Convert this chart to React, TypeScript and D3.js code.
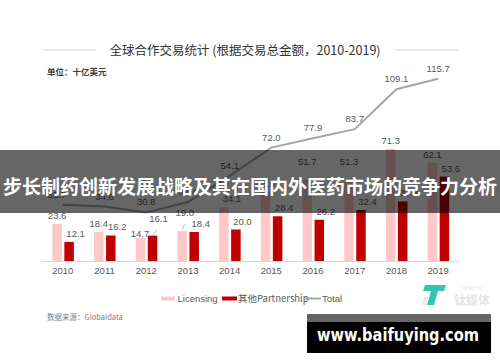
import React from "react";
import * as d3 from "d3";

const years = ["2010", "2011", "2012", "2013", "2014", "2015", "2016", "2017", "2018", "2019"];
const licensing = [23.6, 18.4, 14.7, 19.0, 34.1, 43.6, 51.7, 51.3, 71.3, 62.1];
const partnership = [12.1, 16.2, 16.1, 18.4, 20.0, 28.4, 26.2, 32.4, 37.8, 53.6];
const total = [35.7, 34.6, 30.8, 37.4, 54.1, 72.0, 77.9, 83.7, 109.1, 115.7];
const legendLabels = ["Licensing", "其他Partnership", "Total"];

const W = 500;
const H = 362;
const FONT = "'Liberation Sans', Arial, 'Noto Sans CJK SC', sans-serif";
const CJK = "'Noto Sans CJK SC', 'Liberation Sans', sans-serif";
const PINK = "#FFC9C9";
const RED = "#C00000";
const GRAY = "#A6A6A6";
const TXT = "#595959";

export default function App() {
  const x = d3.scaleBand<string>().domain(years).range([42, 459]);
  const y = d3.scaleLinear().domain([0, 120]).range([261, 72]);
  const bw = 9.5;
  const cx = (yr: string) => (x(yr) as number) + x.bandwidth() / 2;
  const line = d3
    .line<number>()
    .x((_, i) => cx(years[i]))
    .y((d) => y(d));

  return (
    <svg width={W} height={H} style={{ position: "absolute", left: 0, top: 0, background: "#fff" }}>
      <rect width={W} height={H} fill="#fff" />
      {/* title */}
      <line x1={42} x2={96} y1={50} y2={50} stroke="#D9D9D9" strokeWidth={1} />
      <line x1={395} x2={459} y1={50} y2={50} stroke="#D9D9D9" strokeWidth={1} />
      <text x={245} y={54.5} textAnchor="middle" fontFamily={CJK} fontSize={12.5} fill="#333">
        全球合作交易统计 (根据交易总金额，2010-2019)
      </text>
      <text x={47} y={75} fontFamily={CJK} fontSize={8.5} fill="#404040" fontWeight="bold">
        单位：十亿美元
      </text>

      {/* bars */}
      {years.map((yr, i) => (
        <g key={yr}>
          <rect x={cx(yr) - 10.5} y={y(licensing[i])} width={bw} height={y(0) - y(licensing[i])} fill={PINK} />
          <rect x={cx(yr) + 1.5} y={y(partnership[i])} width={bw} height={y(0) - y(partnership[i])} fill={RED} />
        </g>
      ))}

      {/* axis */}
      <line x1={42} x2={459} y1={261.5} y2={261.5} stroke="#D9D9D9" strokeWidth={1} />
      {years.map((yr) => (
        <text key={yr} x={cx(yr)} y={273.5} textAnchor="middle" fontFamily={FONT} fontSize={9.5} fill={TXT}>
          {yr}
        </text>
      ))}

      {/* total line */}
      <path d={line(total) || ""} fill="none" stroke={GRAY} strokeWidth={2} />

      {/* labels */}
      {years.map((yr, i) => {
        const c = cx(yr);
        const lDx = i === 2 ? -0.5 : i === 4 ? 8 : i === 3 ? 2.5 : 0;
        const lDy = i === 3 ? -10 : i === 2 ? 4 : i === 6 || i === 7 ? -10 : 0;
        const pDx = i === 2 ? 6 : 6.5;
        const pDy = i === 2 ? -9 : 0;
        return (
          <g key={yr} fontFamily={FONT} fontSize={9.5} fill={TXT}>
            <text x={c - 5.75 + lDx} y={y(licensing[i]) - 5 + lDy} textAnchor="middle">
              {licensing[i].toFixed(1)}
            </text>
            <text x={c + 6.25 + pDx} y={y(partnership[i]) - 5 + pDy} textAnchor="middle">
              {partnership[i].toFixed(1)}
            </text>
            <text x={c + (i === 0 ? -6 : 0)} y={y(total[i]) - 7} textAnchor="middle">
              {total[i].toFixed(1)}
            </text>
            {i === 2 && (
              <line x1={c + 7} y1={y(partnership[i]) - 1} x2={c + 11} y2={y(partnership[i]) - 6} stroke="#A6A6A6" strokeWidth={0.8} />
            )}
            {i === 3 && (
              <line x1={c - 5.5} y1={y(licensing[i]) - 1} x2={c - 3.5} y2={y(licensing[i]) - 7} stroke="#A6A6A6" strokeWidth={0.8} />
            )}
          </g>
        );
      })}

      {/* legend */}
      <g fontFamily={FONT} fontSize={9.5} fill={TXT}>
        <rect x={161} y={296.5} width={14} height={4} fill={PINK} />
        <text x={177.5} y={301.5}>{legendLabels[0]}</text>
        <rect x={222} y={296.5} width={15} height={4} fill={RED} />
        <text x={238} y={301.5} fontFamily={CJK}>{legendLabels[1]}</text>
        <line x1={305} x2={321} y1={298.5} y2={298.5} stroke={GRAY} strokeWidth={2} />
        <text x={322} y={301.5}>{legendLabels[2]}</text>
      </g>
      <text x={47} y={320} fontFamily={CJK} fontSize={7.5} fill="#7F7F7F">
        数据来源：Globaldata
      </text>

      {/* logo watermark */}
      <g>
        <polygon points="425,285 446,285 444,291 423,291" fill="#35C6B3" />
        <polygon points="431,291 438,291 434,305 427,305" fill="#35C6B3" />
        <polygon points="424,297 428,297 426,305 422,305" fill="#E8E8E8" />
        <text x={472} y={290} textAnchor="middle" fontFamily={FONT} fontSize={4.5} fill="#E6E6E6">TMTPOST</text>
        <text x={472} y={305} textAnchor="middle" fontFamily={CJK} fontSize={12} fill="#E6E6E6" fontWeight="bold">钛媒体</text>
      </g>

      {/* banner overlay */}
      <rect x={0} y={150} width={W} height={63} fill="rgba(0,0,0,0.6)" />
      <text
        x={250}
        y={194}
        textAnchor="middle"
        fontFamily={CJK}
        fontWeight="bold"
        fontSize={19}
        fill="#fff"
        textLength={494}
        lengthAdjust="spacingAndGlyphs"
      >
        步长制药创新发展战略及其在国内外医药市场的竞争力分析
      </text>

      {/* site watermark */}
      <rect x={307} y={314} width={184} height={8} fill="#666" />
      <rect x={307} y={322} width={184} height={31} fill="#000" />
      <text
        x={398}
        y={341}
        textAnchor="middle"
        fontFamily="'DejaVu Sans', sans-serif"
        fontWeight="bold"
        fontSize={17}
        fill="#fff"
        textLength={162}
        lengthAdjust="spacingAndGlyphs"
      >
        www.baifuying.com
      </text>
    </svg>
  );
}
